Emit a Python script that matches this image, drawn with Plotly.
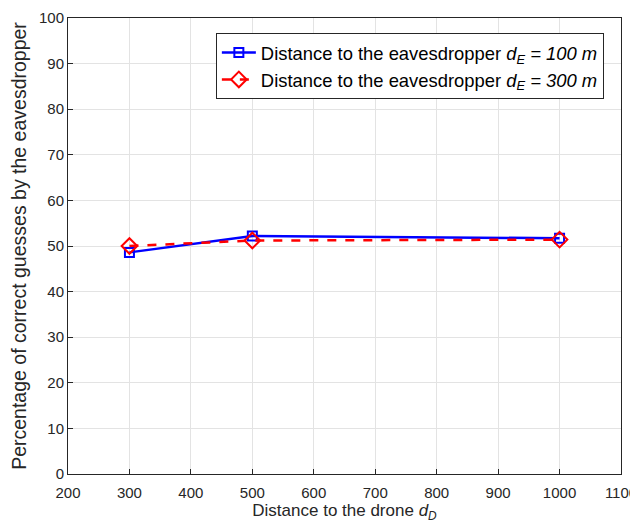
import plotly.graph_objects as go

distances = [300, 500, 1000]
pct_de100 = [48.6, 52.2, 51.7]
pct_de300 = [50.0, 51.2, 51.4]
x_ticks = [200, 300, 400, 500, 600, 700, 800, 900, 1000, 1100]
y_ticks = [0, 10, 20, 30, 40, 50, 60, 70, 80, 90, 100]

fig = go.Figure()
fig.add_trace(go.Scatter(
    x=distances, y=pct_de100, mode="lines+markers",
    name="Distance to the eavesdropper <i>d</i><sub><i>E</i></sub><i> = 100 m</i>",
    line=dict(color="#0000ff", width=2.5),
    marker=dict(symbol="square-open", size=9, color="#0000ff", line=dict(width=2)),
))
fig.add_trace(go.Scatter(
    x=distances, y=pct_de300, mode="lines+markers",
    name="Distance to the eavesdropper <i>d</i><sub><i>E</i></sub><i> = 300 m</i>",
    line=dict(color="#ff0000", width=2.5, dash="dash"),
    marker=dict(symbol="diamond-open", size=12, color="#ff0000", line=dict(width=2)),
))

axis_common = dict(
    showgrid=True, gridcolor="#e3e3e3", gridwidth=1,
    showline=True, linecolor="#262626", linewidth=1, mirror=True,
    ticks="inside", ticklen=5, tickcolor="#262626",
    zeroline=False, automargin=False,
    tickfont=dict(family="Liberation Sans, Arial", size=15, color="#262626"),
)

fig.update_layout(
    width=638, height=526,
    margin=dict(l=60, r=25, t=10, b=60),
    paper_bgcolor="white", plot_bgcolor="white",
    font=dict(family="Liberation Sans, Arial", size=15, color="#262626"),
    xaxis=dict(range=[200, 1100], tickvals=x_ticks, ticklabelstandoff=5,
               title=dict(text="Distance to the drone <i>d</i><sub><i>D</i></sub>", standoff=4,
                          font=dict(size=17)),
               **axis_common),
    yaxis=dict(range=[0, 100], tickvals=y_ticks,
               title=dict(text="Percentage of correct guesses by the eavesdropper", standoff=8,
                          font=dict(size=19.5)),
               **axis_common),
    legend=dict(x=0.969, y=0.967, xanchor="right", yanchor="top",
                bgcolor="white", bordercolor="#262626", borderwidth=1,
                itemwidth=34,
                font=dict(size=18.4, color="#000000"), tracegroupgap=0),
    showlegend=True,
)

fig.write_html("out.html")
